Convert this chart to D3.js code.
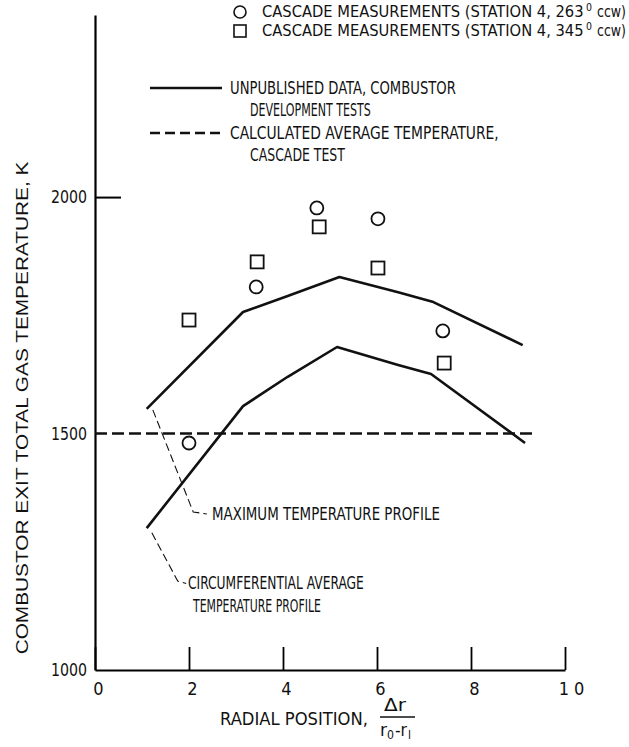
<!DOCTYPE html>
<html>
<head>
<meta charset="utf-8">
<script src="https://cdn.jsdelivr.net/npm/d3@7"></script>
<style>
  body { margin: 0; background: #fff; }
  text { font-family: "Liberation Sans Narrow", "DejaVu Sans Condensed", "Roboto Condensed", "Liberation Sans", sans-serif; fill: #111; }
  .plain { font-family: "Liberation Sans", "DejaVu Sans", sans-serif; }
</style>
</head>
<body>
<div id="chart"></div>
<script>
// maximum temperature profile (combustor development tests)
const maxProfileX = [1.1, 3.15, 4.1, 5.2, 6.45, 7.2, 9.1];
const maxProfileT = [1552, 1757, 1791, 1831, 1799, 1778, 1687];
// circumferential average temperature profile
const avgProfileX = [1.1, 3.15, 4.1, 5.15, 6.45, 7.15, 9.15];
const avgProfileT = [1300, 1558, 1620, 1683, 1645, 1626, 1480];
// cascade measurements, station 4, 263 deg ccw
const station263X = [2.0, 3.43, 4.72, 6.02, 7.4];
const station263T = [1480, 1810, 1977, 1954, 1717];
// cascade measurements, station 4, 345 deg ccw
const station345X = [2.0, 3.45, 4.77, 6.02, 7.43];
const station345T = [1740, 1863, 1937, 1850, 1649];
// calculated average temperature, cascade test
const calcAvgX = [0, 9.35];
const calcAvgT = [1500, 1500];

const xTicks = [0, 2, 4, 6, 8, 10];
const xTickLabels = ["0", "2", "4", "6", "8", "1\u00a00"];
const yTicks = [1000, 1500, 2000];

var width = 629, height = 747;

// set the ranges
var x = d3.scaleLinear().domain([0, 10]).range([95, 565]);
var y = d3.scaleLinear().domain([1000, 2385]).range([670, 15]);

var svg = d3.select("#chart").append("svg")
  .attr("width", width)
  .attr("height", height);

// squeeze a text horizontally so it spans w pixels (condensed look)
function fit(t, w) {
  var nat = t.node().getComputedTextLength();
  var s = w / nat;
  var px = +t.attr("x") || 0, py = +t.attr("y") || 0;
  t.attr("transform", "translate(" + px + "," + py + ") scale(" + s + ",1) translate(" + (-px) + "," + (-py) + ")");
  return t;
}

function label(px, py, str, len, size) {
  var t = svg.append("text")
    .attr("x", px).attr("y", py)
    .attr("dominant-baseline", "central")
    .style("font-size", (size || 17) + "px")
    .text(str);
  if (len) fit(t, len);
  return t;
}

// x axis
var xAxis = svg.append("g")
  .attr("transform", "translate(0," + y(1000) + ")")
  .call(d3.axisBottom(x).tickValues(xTicks).tickSize(-23).tickSizeOuter(0).tickPadding(12)
    .tickFormat(function(d, i) { return xTickLabels[i]; }));
xAxis.select(".domain").attr("stroke-width", 2.2);
xAxis.selectAll(".tick line").attr("stroke-width", 1.8);
xAxis.selectAll(".tick text")
  .attr("dx", function(d) { return d == 10 ? 6 : 3; })
  .style("font-size", "18px").style("font-family", null);

// y axis
var yAxis = svg.append("g")
  .attr("transform", "translate(" + x(0) + ",0)")
  .call(d3.axisLeft(y).tickValues(yTicks).tickSize(-26).tickSizeOuter(0).tickPadding(8)
    .tickFormat(d3.format("d")));
yAxis.select(".domain").attr("stroke-width", 2.2);
yAxis.selectAll(".tick line").attr("stroke-width", 2)
  .attr("stroke-opacity", function(d) { return d == 2000 ? 1 : 0; });
yAxis.selectAll(".tick text")
  .style("font-size", "18px").style("font-family", null)
  .each(function() { fit(d3.select(this), 36); });

var line = d3.line()
  .x(function(d) { return x(d[0]); })
  .y(function(d) { return y(d[1]); });

// calculated average (dashed)
svg.append("path")
  .datum(d3.zip(calcAvgX, calcAvgT))
  .attr("d", line)
  .attr("fill", "none").attr("stroke", "#111")
  .attr("stroke-width", 2.5).attr("stroke-dasharray", "12,5");

// profiles
[d3.zip(maxProfileX, maxProfileT), d3.zip(avgProfileX, avgProfileT)].forEach(function(pts) {
  svg.append("path")
    .datum(pts)
    .attr("d", line)
    .attr("fill", "none").attr("stroke", "#111")
    .attr("stroke-width", 2.6).attr("stroke-linejoin", "round");
});

// measurement points
svg.selectAll(".circ")
  .data(d3.zip(station263X, station263T))
  .enter().append("circle")
    .attr("class", "circ")
    .attr("cx", function(d) { return x(d[0]); })
    .attr("cy", function(d) { return y(d[1]); })
    .attr("r", 6.5)
    .attr("fill", "#fff").attr("stroke", "#111").attr("stroke-width", 1.8);

svg.selectAll(".sq")
  .data(d3.zip(station345X, station345T))
  .enter().append("rect")
    .attr("class", "sq")
    .attr("x", function(d) { return x(d[0]) - 6.5; })
    .attr("y", function(d) { return y(d[1]) - 6.5; })
    .attr("width", 13).attr("height", 13)
    .attr("fill", "#fff").attr("stroke", "#111").attr("stroke-width", 1.8);

// leader lines for the curve annotations
var maxLeader = [[1.23, 1550], [2.09, 1334], [2.38, 1330]];
var avgLeader = [[1.21, 1290], [1.76, 1188], [1.94, 1183]];
[maxLeader, avgLeader].forEach(function(pts) {
  svg.append("path")
    .datum(pts)
    .attr("d", line)
    .attr("fill", "none").attr("stroke", "#111")
    .attr("stroke-width", 1.1).attr("stroke-dasharray", "8,4");
});
label(212, y(1330), "MAXIMUM TEMPERATURE PROFILE", 228);
label(188, y(1182), "CIRCUMFERENTIAL AVERAGE", 176);
label(193, y(1135), "TEMPERATURE PROFILE", 128);

// legend
svg.append("circle").attr("cx", 240).attr("cy", 12).attr("r", 6)
  .attr("fill", "#fff").attr("stroke", "#111").attr("stroke-width", 1.6);
svg.append("rect").attr("x", 234).attr("y", 25).attr("width", 12).attr("height", 12)
  .attr("fill", "#fff").attr("stroke", "#111").attr("stroke-width", 1.6);

function legendMeas(py, deg) {
  label(262, py, "CASCADE MEASUREMENTS (STATION 4, " + deg, 322, 16);
  label(586, py - 4, "0", 6, 10);
  label(597, py, "ccw)", 29, 15);
}
legendMeas(12, "263");
legendMeas(31, "345");

svg.append("line").attr("x1", 150).attr("x2", 222).attr("y1", 88).attr("y2", 88)
  .attr("stroke", "#111").attr("stroke-width", 2.6);
label(230, 88, "UNPUBLISHED DATA, COMBUSTOR", 226);
label(250, 110, "DEVELOPMENT TESTS", 121);
svg.append("line").attr("x1", 150).attr("x2", 222).attr("y1", 133).attr("y2", 133)
  .attr("stroke", "#111").attr("stroke-width", 2.6).attr("stroke-dasharray", "10,5");
label(230, 133, "CALCULATED AVERAGE TEMPERATURE,", 269);
label(250, 156, "CASCADE TEST", 95);

// axis titles
var yTitle = svg.append("g")
  .attr("transform", "translate(22,408) rotate(-90)")
  .append("text")
    .attr("class", "plain")
    .attr("x", 0).attr("y", 0)
    .attr("text-anchor", "middle")
    .attr("dominant-baseline", "central")
    .style("font-size", "17px")
    .text("COMBUSTOR EXIT TOTAL GAS TEMPERATURE, K");
fit(yTitle, 493);

label(220, 719, "RADIAL POSITION,", 148);
label(384, 705, "\u0394r", 22, 17);
svg.append("line").attr("x1", 380).attr("x2", 415).attr("y1", 717).attr("y2", 717)
  .attr("stroke", "#111").attr("stroke-width", 1.5);
label(380, 730, "r", 7, 17);
label(387, 735, "0", 7, 12);
label(395, 730, "-r", 12, 17);
label(408, 735, "I", 3, 12);
</script>
</body>
</html>
